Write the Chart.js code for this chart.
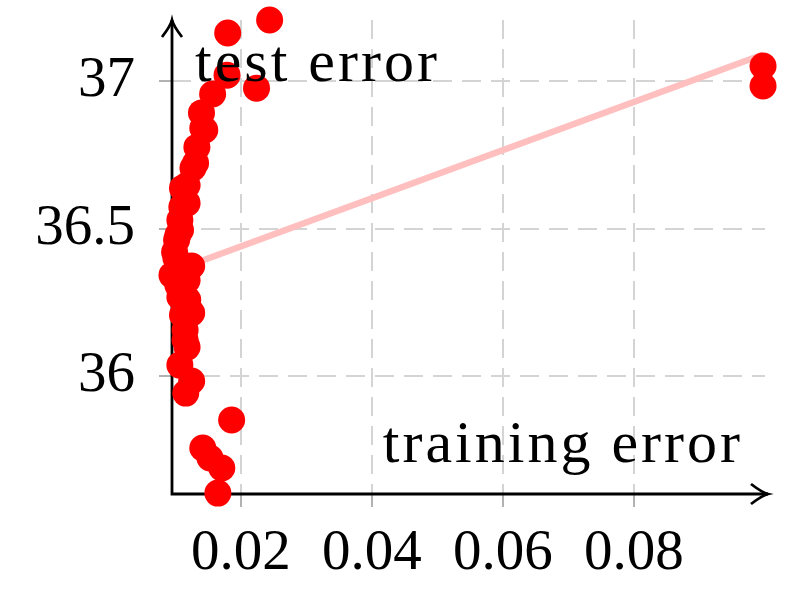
<!DOCTYPE html>
<html>
<head>
<meta charset="utf-8">
<script src="https://cdn.jsdelivr.net/npm/chart.js@4/dist/chart.umd.min.js"></script>
<style>
	html, body { margin: 0; padding: 0; background: #fff; }
	canvas { display: block; }
</style>
</head>
<body>
<canvas id="chart" width="786" height="598"></canvas>
<script>
// one entry per run: training error and test error
const trainErr = [0.0244, 0.0180, 0.0179, 0.0224, 0.0157, 0.0140, 0.0142, 0.0145, 0.0133, 0.0131,
	0.0127, 0.0118, 0.0111, 0.0118, 0.0110, 0.0107, 0.0108, 0.0104, 0.0102, 0.0101,
	0.0099, 0.0125, 0.0095, 0.0118, 0.0104, 0.0107, 0.0119, 0.0111, 0.0125, 0.0115,
	0.0115, 0.0118, 0.0107, 0.0125, 0.0116, 0.0186, 0.0142, 0.0153, 0.0171, 0.0165,
	0.0997, 0.0997]
const testErr = [37.207, 37.163, 37.020, 36.976, 36.956, 36.892, 36.841, 36.834, 36.776, 36.722,
	36.705, 36.647, 36.637, 36.586, 36.573, 36.529, 36.495, 36.478, 36.461, 36.400,
	36.420, 36.373, 36.342, 36.325, 36.308, 36.268, 36.258, 36.207, 36.214, 36.156,
	36.122, 36.098, 36.037, 35.983, 35.942, 35.851, 35.756, 35.722, 35.688, 35.603,
	37.051, 36.983]

// fitted line, end points
const fitX = [0.0098, 0.0997]
const fitY = [36.356, 37.09]

const xTicks = [0.02, 0.04, 0.06, 0.08]
const yTicks = [36, 36.5, 37]
const xLabel = 'training error'
const yLabel = 'test error'

const serif = '"Liberation Serif", "DejaVu Serif", serif'

function arrowHead(ctx, x, y, dx, dy) {
	const len = 17, half = 10
	const px = -dy, py = dx
	ctx.beginPath()
	ctx.moveTo(x - dx * len + px * half, y - dy * len + py * half)
	ctx.quadraticCurveTo(x - dx * len * 0.35 + px * half * 0.15, y - dy * len * 0.35 + py * half * 0.15, x, y)
	ctx.quadraticCurveTo(x - dx * len * 0.35 - px * half * 0.15, y - dy * len * 0.35 - py * half * 0.15,
		x - dx * len - px * half, y - dy * len - py * half)
	ctx.stroke()
}

// no extra room for half tick labels, the layout is fixed below
function noPadding(s) {
	s.paddingTop = 0
	s.paddingBottom = 0
	s.paddingLeft = 0
	s.paddingRight = 0
}

const axisLines = {
	id: 'axisLines',
	beforeDatasetsDraw(chart) {
		const ctx = chart.ctx
		const a = chart.chartArea
		ctx.save()
		ctx.strokeStyle = '#000'
		ctx.lineWidth = 2.8
		ctx.beginPath()
		ctx.moveTo(a.left, a.bottom + 1.4)
		ctx.lineTo(a.left, a.top)
		ctx.moveTo(a.left - 1.4, a.bottom)
		ctx.lineTo(a.right + 3, a.bottom)
		ctx.stroke()
		arrowHead(ctx, a.left, a.top, 0, -1)
		arrowHead(ctx, a.right + 3, a.bottom, 1, 0)
		ctx.restore()
	},
	afterDatasetsDraw(chart) {
		const ctx = chart.ctx
		const a = chart.chartArea
		ctx.save()
		ctx.fillStyle = '#000'
		ctx.font = '60px ' + serif
		ctx.textBaseline = 'alphabetic'
		ctx.letterSpacing = '3px'
		ctx.textAlign = 'left'
		ctx.fillText(yLabel, a.left + 23, a.top + 61)
		ctx.textAlign = 'right'
		ctx.fillText(xLabel, a.right - 22, a.bottom - 32)
		ctx.restore()
	},
}

const chart = new Chart(document.getElementById('chart'), {
	type: 'scatter',
	data: {
		datasets: [{
			type: 'scatter',
			data: trainErr.map((x, i) => ({ x: x, y: testErr[i] })),
			backgroundColor: '#ff0000',
			borderWidth: 0,
			pointRadius: 13.5,
			pointHoverRadius: 13.5,
			clip: false,
		}, {
			type: 'line',
			data: fitX.map((x, i) => ({ x: x, y: fitY[i] })),
			borderColor: '#ffbfbf',
			borderWidth: 6.5,
			pointRadius: 0,
			fill: false,
			clip: false,
		}],
	},
	options: {
		animation: false,
		responsive: false,
		devicePixelRatio: 1,
		events: [],
		layout: {
			padding: { top: 20, right: 21, left: 0, bottom: 0 },
		},
		plugins: {
			legend: { display: false },
			tooltip: { enabled: false },
		},
		scales: {
			x: {
				type: 'linear',
				min: 0.0095,
				max: 0.1,
				afterBuildTicks: (s) => { s.ticks = xTicks.map(v => ({ value: v })) },
				afterFit: (s) => { s.height = 104; noPadding(s) },
				ticks: {
					color: '#000',
					font: { family: serif, size: 57 },
					padding: 13,
					maxRotation: 0,
					autoSkip: false,
					callback: (v) => String(v),
				},
				grid: {
					color: '#d4d4d4',
					lineWidth: 2,
					tickLength: 13,
					tickColor: '#999999',
					tickWidth: 1.5,
					tickBorderDash: [],
				},
				border: { display: false, dash: [19, 10] },
			},
			y: {
				type: 'linear',
				min: 35.6,
				max: 37.207,
				afterBuildTicks: (s) => { s.ticks = yTicks.map(v => ({ value: v })) },
				afterFit: (s) => { s.width = 172; noPadding(s) },
				ticks: {
					color: '#000',
					font: { family: serif, size: 57 },
					padding: 24,
					autoSkip: false,
					callback: (v) => String(v),
				},
				grid: {
					color: '#d4d4d4',
					lineWidth: 2,
					tickLength: 13,
					tickColor: '#999999',
					tickWidth: 1.5,
					tickBorderDash: [],
				},
				border: { display: false, dash: [19, 10] },
			},
		},
	},
	plugins: [axisLines],
})
</script>
</body>
</html>
